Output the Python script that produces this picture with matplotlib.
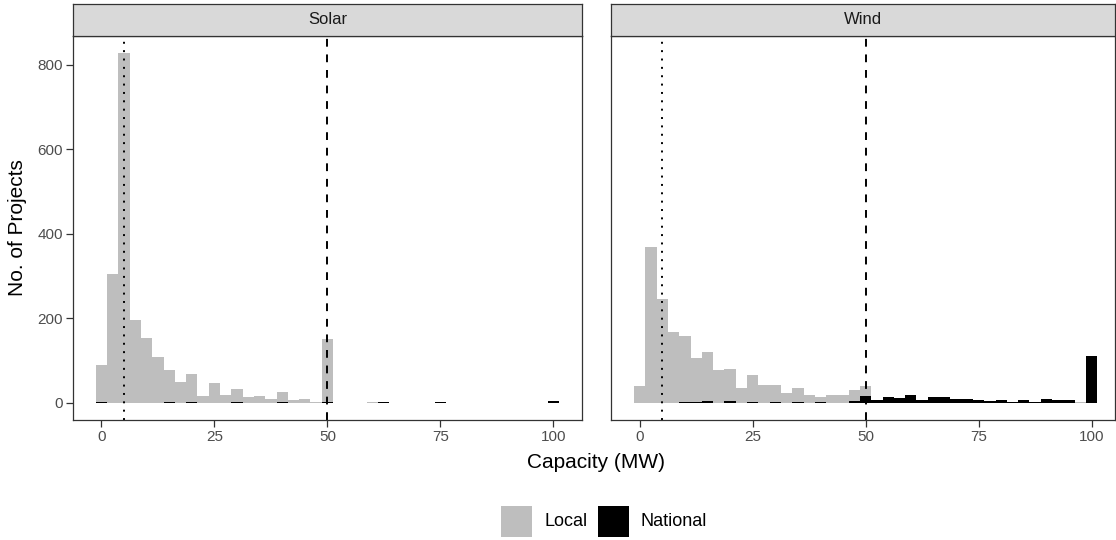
import matplotlib
matplotlib.use('Agg')
import matplotlib.pyplot as plt
from matplotlib.patches import Rectangle
import numpy as np

plt.rcParams['font.family'] = ['Liberation Sans', 'DejaVu Sans']

# histogram bins (centres in MW), binwidth 2.5
bin_centers = np.linspace(0, 100, 41)
bin_width = 2.5

# counts per bin
solar_local = [89, 304, 828, 196, 153, 108, 75, 48, 66, 15,
               46, 18, 31, 13, 15, 8, 22, 7, 8, 2,
               149, 0, 0, 0, 1, 0, 0, 0, 0, 0,
               0, 0, 0, 0, 0, 0, 0, 0, 0, 0,
               0]
solar_national = [1, 0, 0, 0, 0, 0, 1, 0, 2, 0,
                  0, 0, 2, 0, 0, 0, 2, 0, 0, 0,
                  1, 0, 0, 0, 0, 1, 0, 0, 0, 0,
                  1, 0, 0, 0, 0, 0, 0, 0, 0, 0,
                  3]
wind_local = [38, 369, 246, 166, 156, 103, 117, 76, 77, 35,
              63, 42, 40, 22, 33, 19, 11, 17, 18, 26,
              25, 0, 0, 0, 0, 0, 0, 0, 0, 0,
              0, 0, 0, 0, 0, 0, 0, 0, 0, 2,
              0]
wind_national = [0, 0, 0, 0, 1, 2, 3, 0, 3, 0,
                 2, 0, 1, 0, 1, 0, 2, 0, 0, 4,
                 15, 5, 13, 11, 17, 7, 14, 13, 9, 9,
                 7, 4, 6, 2, 7, 2, 9, 5, 5, 0,
                 111]

panel_names = ['Solar', 'Wind']
local_counts = [solar_local, wind_local]
national_counts = [solar_national, wind_national]
x_ticks = [0, 25, 50, 75, 100]
y_ticks = [0, 200, 400, 600, 800]

local_col = '#BEBEBE'
national_col = 'black'
border_col = '#333333'
text_col = '#4D4D4D'

W, H = 1116, 540
fig = plt.figure(figsize=(W / 100, H / 100), dpi=100)

# panel positions in pixels: (left, right)
panel_px = [(72.7, 582.0), (611.0, 1115.0)]
top_px, bottom_px = 35.7, 420.0
strip_top_px = 4.3
px_per_mw = (582.0 - 72.7) / 112.75

for i, name in enumerate(panel_names):
    l, r = panel_px[i]
    ax = fig.add_axes([l / W, 1 - bottom_px / H, (r - l) / W, (bottom_px - top_px) / H])
    nat = np.array(national_counts[i])
    loc = np.array(local_counts[i])
    ax.bar(bin_centers, nat, width=bin_width, color=national_col, linewidth=0)
    ax.bar(bin_centers, loc, width=bin_width, bottom=nat, color=local_col, linewidth=0)

    ax.axvline(5, color='black', lw=1.4, linestyle=(0, (1, 3.3)))
    ax.axvline(50, color='black', lw=1.4, linestyle=(0, (4, 4)))

    ax.set_xlim(-6.375, -6.375 + (r - l) / px_per_mw)
    ax.set_ylim(-41.4, 869.4)
    ax.set_xticks(x_ticks)
    ax.set_yticks(y_ticks)
    ax.tick_params(length=5, width=0.9, color=border_col, labelcolor=text_col,
                   labelsize=11, pad=2)
    if i > 0:
        ax.tick_params(left=False, labelleft=False)
    for s in ax.spines.values():
        s.set_color(border_col)
        s.set_linewidth(0.9)

    # facet strip
    sax = fig.add_axes([l / W, 1 - top_px / H, (r - l) / W, (top_px - strip_top_px) / H])
    sax.set_facecolor('#D9D9D9')
    sax.set_xticks([])
    sax.set_yticks([])
    for s in sax.spines.values():
        s.set_color(border_col)
        s.set_linewidth(0.9)
    sax.text(0.5, 0.5, name, ha='center', va='center', fontsize=12, color='#1A1A1A',
             transform=sax.transAxes)

fig.text(596 / W, 1 - 463 / H, 'Capacity (MW)', ha='center', va='center', fontsize=15)
fig.text(18 / W, 1 - 228 / H, 'No. of Projects', ha='center', va='center',
         rotation=90, fontsize=15)

# legend
legend_items = [('Local', local_col, 500.7, 545), ('National', national_col, 598, 641)]
for label, col, box_x, text_x in legend_items:
    fig.add_artist(Rectangle((box_x / W, 1 - 536.7 / H), 31 / W, 30.7 / H,
                             transform=fig.transFigure, facecolor=col, edgecolor='none'))
    fig.text(text_x / W, 1 - 521 / H, label, ha='left', va='center', fontsize=13)

fig.savefig('out.png', dpi=100)
